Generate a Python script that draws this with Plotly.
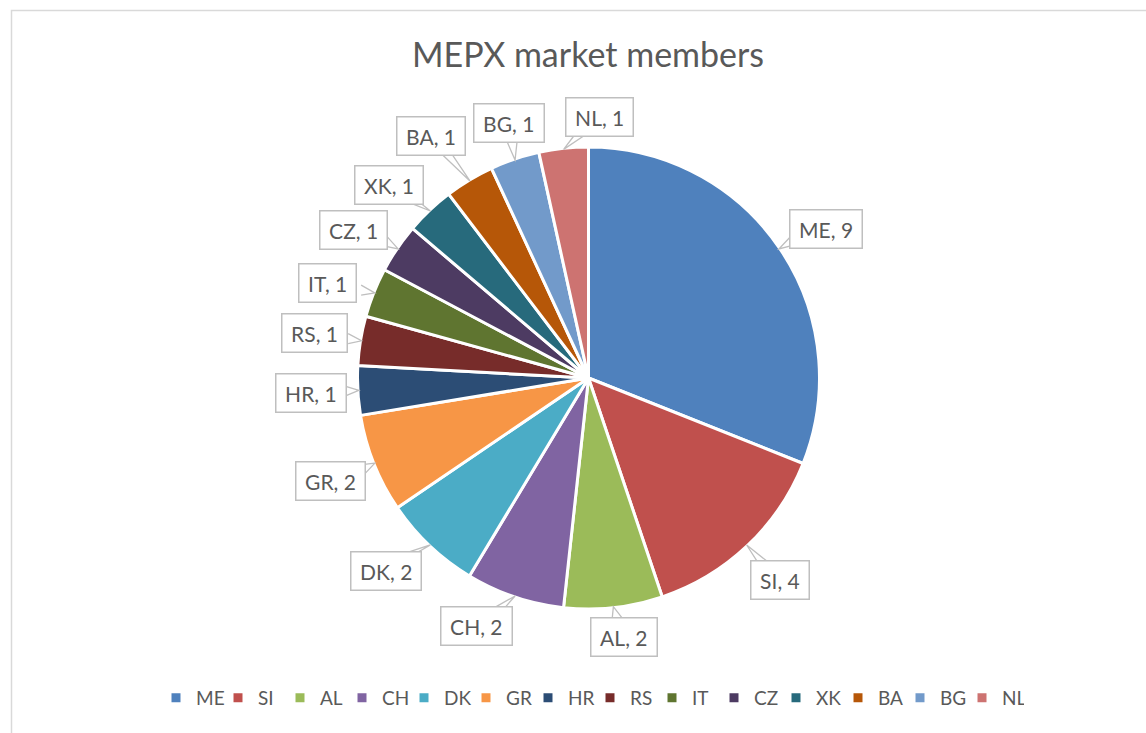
import math
import plotly.graph_objects as go

# ---- data ----
countries = ["ME", "SI", "AL", "CH", "DK", "GR", "HR", "RS", "IT", "CZ", "XK", "BA", "BG", "NL"]
members = [9, 4, 2, 2, 2, 2, 1, 1, 1, 1, 1, 1, 1, 1]
title_text = "MEPX market members"

# ---- styles ----
colors = ["#4F81BD", "#C0504D", "#9BBB59", "#8064A2", "#4BACC6", "#F79646", "#2C4D75",
          "#772C2A", "#5F7530", "#4D3B62", "#276A7C", "#B65708", "#729ACA", "#CD7371"]
W, H = 1146, 733
CX, CY, R = 588.5, 378.0, 231.0          # pie centre / radius in pixels
LABEL_DIST = 278.0                        # label centre distance from pie centre
# small per-label adjustments (angle deg, radius px), like Excel's label placement
nudge = {"ME": (2, 2), "AL": (-1.5, -17), "CH": (5.8, -6), "DK": (3, 2), "BA": (-2, 11),
         "BG": (1.3, -11), "NL": (8.7, -17), "XK": (-2.5, 0), "CZ": (-2, 0), "IT": (-1.8, 0)}
TXT = "#595959"
BOX = "#BFBFBF"
FONT = "Lato"


def px2paper(x, y):
    return x / W, 1 - y / H


fig = go.Figure(go.Pie(
    labels=countries, values=members, sort=False, direction="clockwise", rotation=0,
    marker=dict(colors=colors, line=dict(color="white", width=3)),
    textinfo="none", hoverinfo="label+value",
    domain=dict(x=[(CX - R) / W, (CX + R) / W], y=[1 - (CY + R) / H, 1 - (CY - R) / H]),
))

total = sum(members)
cum = 0
annotations = []
shapes = []
for name, v in zip(countries, members):
    mid = (cum + v / 2) / total * 360
    cum += v
    da, dr = nudge.get(name, (0, 0))
    ang = math.radians(mid + da)
    d = LABEL_DIST + dr
    bx, by = CX + d * math.sin(ang), CY - d * math.cos(ang)
    m0 = math.radians(mid)
    tx, ty = CX + (R - 1) * math.sin(m0), CY - (R - 1) * math.cos(m0)
    # callout wedge from box edge to slice edge
    hw, hh = 34.0, 18.5
    vx, vy = tx - bx, ty - by
    sx = hw / abs(vx) if vx else 1e9
    sy = hh / abs(vy) if vy else 1e9
    if sx < sy:
        px_, py_ = bx + vx * sx, by + vy * sx
        py_ = min(max(py_, by - hh + 7), by + hh - 7)
        b1, b2 = (px_, py_ - 5), (px_, py_ + 5)
    else:
        px_, py_ = bx + vx * sy, by + vy * sy
        px_ = min(max(px_, bx - hw + 7), bx + hw - 7)
        b1, b2 = (px_ - 5, py_), (px_ + 5, py_)
    p1 = px2paper(*b1)
    pt = px2paper(tx, ty)
    p2 = px2paper(*b2)
    shapes.append(dict(type="path", xref="paper", yref="paper",
                       path=f"M {p1[0]},{p1[1]} L {pt[0]},{pt[1]} L {p2[0]},{p2[1]}",
                       line=dict(color=BOX, width=1.3), layer="above"))
    ax_, ay_ = px2paper(bx, by)
    annotations.append(dict(
        x=ax_, y=ay_, xref="paper", yref="paper", showarrow=False,
        text=f"\u2009{name}, {v}\u2009", font=dict(family=FONT, size=21, color=TXT),
        bgcolor="white", bordercolor=BOX, borderwidth=1.5, borderpad=6,
        xanchor="center", yanchor="middle"))

# chart border
shapes.insert(0, dict(type="rect", xref="paper", yref="paper",
                      x0=11.5 / W, x1=1.02, y0=-0.02, y1=1 - 10.5 / H,
                      line=dict(color="#D9D9D9", width=1.5), fillcolor="rgba(0,0,0,0)",
                      layer="below"))

fig.update_layout(
    width=W, height=H,
    margin=dict(l=0, r=0, t=0, b=0),
    paper_bgcolor="white", plot_bgcolor="white",
    title=dict(text=title_text, x=588 / W, xanchor="center", y=1 - 55 / H, yanchor="middle",
               font=dict(family=FONT, size=34, color=TXT)),
    legend=dict(orientation="h", x=590 / W, xanchor="center", y=1 - 698 / H, yanchor="middle",
                font=dict(family=FONT, size=19, color=TXT), itemwidth=30,
                entrywidth=17, entrywidthmode="pixels"),
    annotations=annotations,
    shapes=shapes,
    font=dict(family=FONT, color=TXT),
)

fig.write_html("out.html", config={"displayModeBar": False},
               post_script="document.body.style.margin='0px';")
